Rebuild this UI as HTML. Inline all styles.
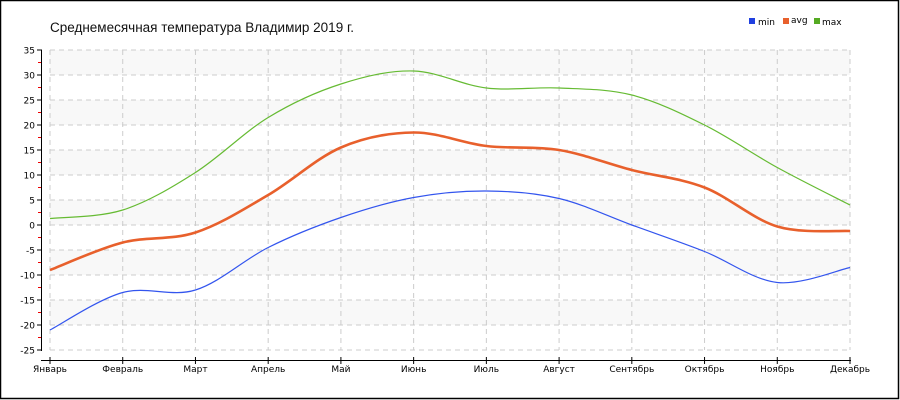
<!DOCTYPE html>
<html><head><meta charset="utf-8"><style>
html,body{margin:0;padding:0;background:#fff}
svg{display:block}
text{font-family:"DejaVu Sans","Liberation Sans",sans-serif}
text.t{font-family:"Liberation Sans",sans-serif}
</style></head><body>
<svg id="s" width="900" height="400" xmlns="http://www.w3.org/2000/svg">
<rect x="0.5" y="0.5" width="898" height="398" fill="#fff" stroke="#000" stroke-width="1.5"/>
<text class="t" x="50" y="32" font-size="13.5" fill="#111">Среднемесячная температура Владимир  2019 г.</text>
<g font-size="9">
<rect x="749" y="18" width="6" height="6" fill="#2040e0"/><text x="758" y="25">min</text>
<rect x="783" y="18" width="6" height="6" fill="#e8602c"/><text x="791" y="23">avg</text>
<rect x="814" y="18" width="6" height="6" fill="#55aa22"/><text x="822" y="25">max</text>
</g>
<g id="grid"></g>
<g id="series"></g>
</svg>
<script>
var NS="http://www.w3.org/2000/svg",g=document.getElementById('grid'),se=document.getElementById('series');
function el(p,t,a,txt){var e=document.createElementNS(NS,t);for(var k in a)e.setAttribute(k,a[k]);if(txt!=null)e.textContent=txt;p.appendChild(e);return e;}
var X0=50,DX=(850-50)/11;function Y(v){return 225-5*v;}
for(var v=35;v>-25;v-=10){el(g,'rect',{x:50,y:Y(v),width:800,height:25,fill:'#f8f8f8'});}
for(var v=35;v>=-25;v-=5){el(g,'line',{x1:50,x2:850,y1:Y(v),y2:Y(v),stroke:'#ccc','stroke-dasharray':'5,4'});
 el(g,'line',{x1:37,x2:42,y1:Y(v),y2:Y(v),stroke:'#000'});
 el(g,'text',{x:35,y:Y(v)+3.5,'font-size':9,'text-anchor':'end'},String(v));
 if(v>-25)el(g,'line',{x1:38,x2:41,y1:Y(v-2.5),y2:Y(v-2.5),stroke:'#e00'});}
el(g,'line',{x1:41.5,x2:41.5,y1:50,y2:351,stroke:'#000'});
el(g,'line',{x1:41,x2:851,y1:360.5,y2:360.5,stroke:'#000'});
var m=['Январь','Февраль','Март','Апрель','Май','Июнь','Июль','Август','Сентябрь','Октябрь','Ноябрь','Декабрь'];
for(var i=0;i<12;i++){var x=X0+i*DX;
 el(g,'line',{x1:x,x2:x,y1:50,y2:350,stroke:'#ccc','stroke-dasharray':'5,4'});
 el(g,'line',{x1:x,x2:x,y1:357,y2:364,stroke:'#000'});
 el(g,'text',{x:x,y:372,'font-size':9,'text-anchor':'middle'},m[i]);}
function path(d){var p=d.map(function(v,i){return[X0+i*DX,Y(v)]});var s='M'+p[0][0]+','+p[0][1];
 for(var i=0;i<p.length-1;i++){var p0=p[i-1]||p[i],p1=p[i],p2=p[i+1],p3=p[i+2]||p2;
  s+=' C'+(p1[0]+(p2[0]-p0[0])/6)+','+(p1[1]+(p2[1]-p0[1])/6)+' '+(p2[0]-(p3[0]-p1[0])/6)+','+(p2[1]-(p3[1]-p1[1])/6)+' '+p2[0]+','+p2[1];}
 return s;}
el(se,'path',{d:path([1.3,3,10.5,21.5,28.2,30.8,27.4,27.4,26,20,11.5,4]),fill:'none',stroke:'#66bb33','stroke-width':1.2});
el(se,'path',{d:path([-21,-13.5,-13,-4.5,1.5,5.5,6.8,5.3,0,-5.3,-11.5,-8.5]),fill:'none',stroke:'#3355ee','stroke-width':1.2});
el(se,'path',{d:path([-9,-3.5,-1.5,6,15.5,18.5,15.8,15,11,7.5,-0.3,-1.2]),fill:'none',stroke:'#e8602c','stroke-width':2.6});
</script>
</body></html>
